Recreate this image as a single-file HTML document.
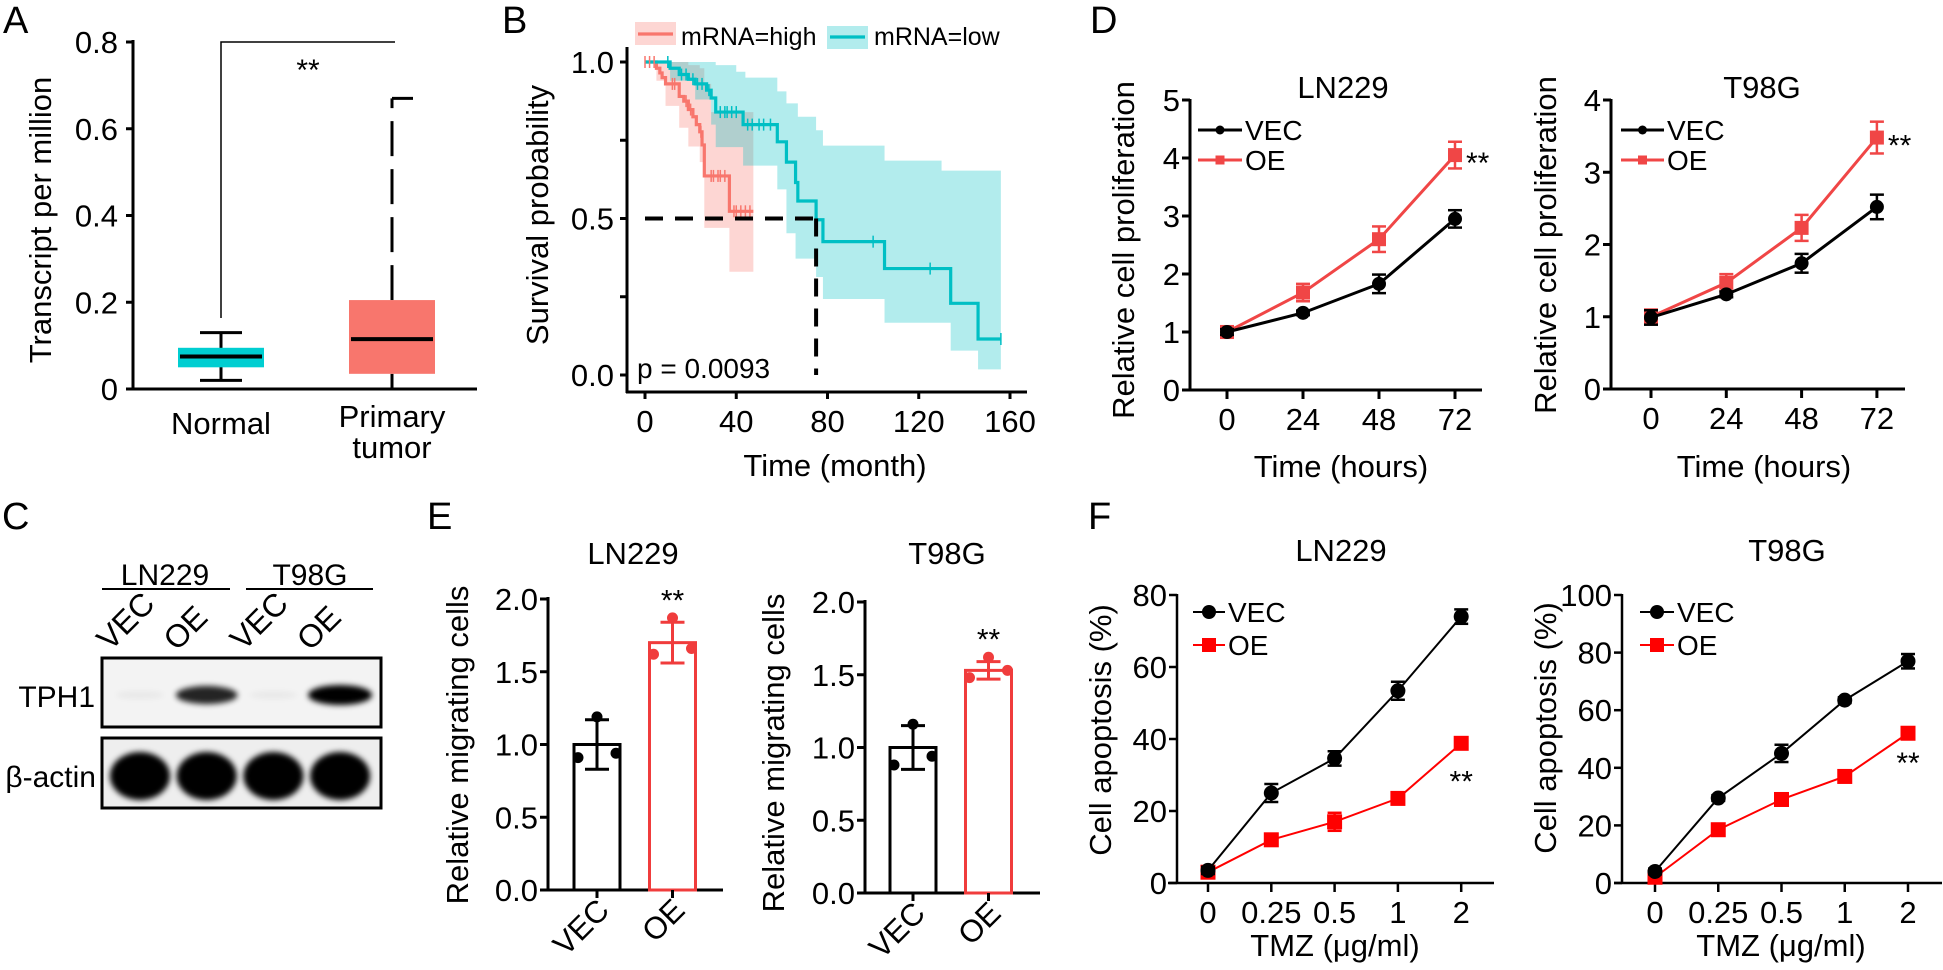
<!DOCTYPE html>
<html><head><meta charset="utf-8"><style>
html,body{margin:0;padding:0;background:#fff;}
svg{display:block;font-family:"Liberation Sans",Arial,sans-serif;}
</style></head><body>
<svg id="fig" width="1943" height="970" viewBox="0 0 1943 970" xmlns="http://www.w3.org/2000/svg">
<defs>
<filter id="blur3" x="-50%" y="-50%" width="200%" height="200%"><feGaussianBlur stdDeviation="3"/></filter>
<filter id="blur5" x="-50%" y="-50%" width="200%" height="200%"><feGaussianBlur stdDeviation="3"/></filter>
</defs>
<g font-size="31" fill="#000">
<text x="3" y="33" font-size="38">A</text>
<text x="502" y="33" font-size="38">B</text>
<text x="2" y="529" font-size="38">C</text>
<text x="1090" y="33" font-size="38">D</text>
<text x="427" y="529" font-size="38">E</text>
<text x="1088" y="529" font-size="38">F</text>

<text transform="translate(51,220) rotate(-90)" text-anchor="middle" font-size="31">Transcript per million</text>
<text x="221" y="434" text-anchor="middle" font-size="31">Normal</text>
<text x="392" y="427" text-anchor="middle" font-size="31">Primary</text>
<text x="392" y="458" text-anchor="middle" font-size="31">tumor</text>

<text transform="translate(548,215) rotate(-90)" text-anchor="middle" font-size="31">Survival probability</text>
<text x="835" y="476" text-anchor="middle" font-size="31">Time (month)</text>
<text x="637" y="378" font-size="28">p = 0.0093</text>
<text x="681" y="45" font-size="25">mRNA=high</text>
<text x="874" y="45" font-size="25">mRNA=low</text>

<text x="165" y="585" text-anchor="middle" font-size="30">LN229</text>
<text x="310" y="585" text-anchor="middle" font-size="30">T98G</text>
<text x="95" y="707" text-anchor="end" font-size="30">TPH1</text>
<text x="96" y="787" text-anchor="end" font-size="30">β-actin</text>

<text x="633" y="564" text-anchor="middle">LN229</text>
<text x="947" y="564" text-anchor="middle">T98G</text>
<text transform="translate(468,745) rotate(-90)" text-anchor="middle">Relative migrating cells</text>
<text transform="translate(784,753) rotate(-90)" text-anchor="middle">Relative migrating cells</text>

<text x="1343" y="98" text-anchor="middle">LN229</text>
<text x="1762" y="98" text-anchor="middle">T98G</text>
<text transform="translate(1134,250) rotate(-90)" text-anchor="middle">Relative cell proliferation</text>
<text transform="translate(1556,245) rotate(-90)" text-anchor="middle">Relative cell proliferation</text>
<text x="1341" y="477" text-anchor="middle">Time (hours)</text>
<text x="1764" y="477" text-anchor="middle">Time (hours)</text>

<text x="1341" y="561" text-anchor="middle">LN229</text>
<text x="1787" y="561" text-anchor="middle">T98G</text>
<text transform="translate(1111,730) rotate(-90)" text-anchor="middle">Cell apoptosis (%)</text>
<text transform="translate(1556,728) rotate(-90)" text-anchor="middle">Cell apoptosis (%)</text>
<text x="1335" y="956" text-anchor="middle">TMZ (μg/ml)</text>
<text x="1781" y="956" text-anchor="middle">TMZ (μg/ml)</text>
</g>
<g id="marks"></g>
</svg>
<script>
// ---------- data ----------
const aGroups = ['Normal', 'Primary tumor'];
const aWhiskerLow = [0.02, 0.0];
const aQ1 = [0.05, 0.035];
const aMedian = [0.075, 0.115];
const aQ3 = [0.095, 0.205];
const aWhiskerHigh = [0.13, 0.67];
const aTicks = ['0', '0.2', '0.4', '0.6', '0.8'];

const bTicksX = [0, 40, 80, 120, 160];
const bTicksY = ['0.0', '0.5', '1.0'];
const kmHighT = [0, 5, 6.5, 7.5, 9, 15, 17, 19, 21, 22.5, 24, 25, 26, 37, 47.5];
const kmHighS = [1, 0.98, 0.965, 0.95, 0.93, 0.89, 0.875, 0.848, 0.825, 0.80, 0.777, 0.735, 0.636, 0.523, 0.523];
const kmLowT = [0, 11, 15, 19, 22, 27, 29, 31, 43, 58, 62, 66, 67, 75, 78, 105, 134, 146, 156];
const kmLowS = [1, 0.98, 0.96, 0.945, 0.93, 0.91, 0.885, 0.84, 0.80, 0.745, 0.68, 0.615, 0.556, 0.496, 0.426, 0.34, 0.229, 0.115, 0.115];
const ciHighT = [0, 5, 9, 15, 19, 24, 26, 29, 37, 47.5];
const ciHighUp = [1, 1, 1, 1, 0.99, 0.98, 0.93, 0.84, 0.84, 0.84];
const ciHighLo = [1, 0.94, 0.86, 0.79, 0.73, 0.68, 0.47, 0.47, 0.33, 0.33];
const ciLowT = [0, 11, 22, 29, 31, 40, 43, 44, 58, 62, 66, 67, 75, 78, 105, 130, 134, 146, 156];
const ciLowUp = [1, 1, 1, 1, 0.99, 0.969, 0.969, 0.95, 0.906, 0.868, 0.868, 0.825, 0.782, 0.733, 0.685, 0.653, 0.653, 0.653, 0.653];
const ciLowLo = [1, 0.94, 0.88, 0.80, 0.728, 0.728, 0.669, 0.669, 0.593, 0.453, 0.372, 0.372, 0.313, 0.243, 0.167, 0.167, 0.078, 0.018, 0.018];
const censorHigh = [0, 2, 4, 12, 13, 18, 20, 24.5, 29, 30, 32, 33, 35, 39, 40, 42, 44, 46];
const censorLow = [10, 16, 18, 21, 23, 25, 28, 33, 35, 36, 38, 40, 45, 47, 50, 52, 55, 100, 125, 156];
const bMedianT = [75];

const cLanes = ['VEC', 'OE', 'VEC', 'OE'];
const cTph1 = [0.03, 0.85, 0.02, 1.0];
const cActin = [1, 1, 1, 1];

const eCats = ['VEC', 'OE'];
const eTicks = ['0.0', '0.5', '1.0', '1.5', '2.0'];
const eLnMean = [1.0, 1.7];
const eLnSd = [0.17, 0.14];
const eLnPts = [[0.91, 1.19, 0.94], [1.62, 1.87, 1.66]];
const eT9Mean = [1.0, 1.53];
const eT9Sd = [0.15, 0.06];
const eT9Pts = [[0.88, 1.16, 0.94], [1.48, 1.62, 1.53]];

const dTimes = ['0', '24', '48', '72'];
const dLnVec = [1.0, 1.33, 1.83, 2.95];
const dLnVecErr = [0.05, 0.04, 0.16, 0.15];
const dLnOe = [1.0, 1.68, 2.6, 4.05];
const dLnOeErr = [0.1, 0.15, 0.22, 0.23];
const dT9Vec = [0.99, 1.31, 1.74, 2.52];
const dT9VecErr = [0.1, 0.04, 0.13, 0.17];
const dT9Oe = [1.0, 1.47, 2.23, 3.48];
const dT9OeErr = [0.1, 0.12, 0.18, 0.22];

const fDoses = ['0', '0.25', '0.5', '1', '2'];
const fLnVec = [3.5, 25, 34.6, 53.4, 74];
const fLnVecErr = [1, 2.5, 2, 2.5, 2];
const fLnOe = [3, 12, 17, 23.5, 38.8];
const fLnOeErr = [1, 1.5, 2.5, 0.5, 0.5];
const fT9Vec = [4, 29.5, 45, 63.5, 77];
const fT9VecErr = [1, 1, 3, 1, 2.5];
const fT9Oe = [2, 18.5, 29, 37, 52];
const fT9OeErr = [0.5, 1, 1, 1, 1];

// ---------- helpers ----------
const NS = 'http://www.w3.org/2000/svg';
const root = document.getElementById('marks');
function mk(tag, attrs, parent) {
  const e = document.createElementNS(NS, tag);
  for (const k in attrs) e.setAttribute(k, attrs[k]);
  (parent || root).appendChild(e);
  return e;
}
function tag(e, name) {
  
  
  return e;
}
function line(x1, y1, x2, y2, stroke, w, name, extra) {
  const a = Object.assign({x1, y1, x2, y2, stroke, 'stroke-width': w}, extra || {});
  return tag(mk('line', a), name);
}
function txt(x, y, s, size, anchor, name, fill) {
  const t = mk('text', {x, y, 'font-size': size, 'text-anchor': anchor || 'middle', fill: fill || '#000'});
  t.textContent = s;
  return tag(t, name);
}
function linScale(v0, px0, v1, px1) { return v => px0 + (v - v0) * (px1 - px0) / (v1 - v0); }

// ---------- Panel A ----------
(function () {
  const y = linScale(0, 389, 0.8, 42);
  const xc = i => 221 + i * 171;
  line(133, 40, 133, 390, '#000', 3, 'a-y-axis');
  line(128, 389, 477, 389, '#000', 3, 'a-x-axis');
  aTicks.forEach((t, i) => {
    const v = parseFloat(t);
    line(126, y(v), 133, y(v), '#000', 3, 'a-y-tick');
    txt(118, y(v) + 11, t, 31, 'end', 'a-y-tick-label');
  });
  const fills = ['#00CED1', '#F8766D'];
  aGroups.forEach((g, i) => {
    const cx = xc(i);
    const hw = 43;
    if (i === 0) {
      line(cx, y(aWhiskerLow[i]), cx, y(aWhiskerHigh[i]), '#000', 3, 'a-whisker-normal');
      line(cx - 21, y(aWhiskerHigh[i]), cx + 21, y(aWhiskerHigh[i]), '#000', 3, 'a-whisker-cap-normal');
      line(cx - 21, y(aWhiskerLow[i]), cx + 21, y(aWhiskerLow[i]), '#000', 3, 'a-whisker-cap-normal');
    } else {
      line(cx, y(aQ3[i]), cx, y(aWhiskerHigh[i]), '#000', 3, 'a-whisker-primary', {'stroke-dasharray': '35 13'});
      line(cx, y(aWhiskerLow[i]), cx, y(aQ1[i]), '#000', 3, 'a-whisker-primary');
      line(cx, y(aWhiskerHigh[i]), cx + 21, y(aWhiskerHigh[i]), '#000', 3, 'a-whisker-cap-primary');
    }
    tag(mk('rect', {x: cx - hw, y: y(aQ3[i]), width: hw * 2, height: y(aQ1[i]) - y(aQ3[i]), fill: fills[i]}), 'a-box-' + (i ? 'primary' : 'normal'));
    line(cx - hw + 2, y(aMedian[i]), cx + hw - 2, y(aMedian[i]), '#000', 4, 'a-median');
  });
  tag(mk('polyline', {points: `${xc(0)},${318} ${xc(0)},42 ${xc(1) + 3},42`, fill: 'none', stroke: '#000', 'stroke-width': 1.5}), 'a-significance-bracket');
  txt(308, 80, '**', 30, 'middle', 'a-significance-stars');
})();

// ---------- Panel B ----------
(function () {
  const x = linScale(0, 645, 160, 1010);
  const y = linScale(0, 375, 1, 62);
  const g = tag(mk('g', {}), 'b-plot');
  function stepPts(T, S) {
    let p = [];
    for (let i = 0; i < T.length; i++) {
      if (i > 0) p.push([x(T[i]), y(S[i - 1])]);
      p.push([x(T[i]), y(S[i])]);
    }
    return p;
  }
  function band(T, U, L, fill, name) {
    const up = stepPts(T, U), lo = stepPts(T, L).reverse();
    tag(mk('polygon', {points: up.concat(lo).map(p => p.join(',')).join(' '), fill, stroke: 'none'}, g), name);
  }
  band(ciHighT, ciHighUp, ciHighLo, 'rgba(248,118,109,0.3)', 'b-ci-high');
  band(ciLowT, ciLowUp, ciLowLo, 'rgba(0,191,196,0.3)', 'b-ci-low');
  function curve(T, S, col, name) {
    tag(mk('polyline', {points: stepPts(T, S).map(p => p.join(',')).join(' '), fill: 'none', stroke: col, 'stroke-width': 3.2}, g), name);
  }
  curve(kmHighT, kmHighS, '#F8766D', 'b-curve-high');
  curve(kmLowT, kmLowS, '#00BFC4', 'b-curve-low');
  function sAt(T, S, t) { let s = S[0]; for (let i = 0; i < T.length; i++) if (T[i] <= t) s = S[i]; return s; }
  censorHigh.forEach(t => line(x(t), y(sAt(kmHighT, kmHighS, t)) - 6, x(t), y(sAt(kmHighT, kmHighS, t)) + 6, '#F8766D', 1.5, 'b-censor-high'));
  censorLow.forEach(t => line(x(t), y(sAt(kmLowT, kmLowS, t)) - 6, x(t), y(sAt(kmLowT, kmLowS, t)) + 6, '#00BFC4', 1.5, 'b-censor-low'));
  line(x(0), y(0.5), x(bMedianT[0]), y(0.5), '#000', 4, 'b-median-line-h', {'stroke-dasharray': '18 12'});
  line(x(bMedianT[0]), y(0.5), x(bMedianT[0]), y(0), '#000', 4, 'b-median-line-v', {'stroke-dasharray': '18 12'});
  line(627, 47, 627, 393, '#000', 3, 'b-y-axis');
  line(626, 392, 1027, 392, '#000', 3, 'b-x-axis');
  [0, 0.25, 0.5, 0.75, 1].forEach(v => line(620, y(v), 627, y(v), '#000', 3, 'b-y-tick'));
  bTicksY.forEach(t => txt(614, y(parseFloat(t)) + 11, t, 31, 'end', 'b-y-tick-label'));
  bTicksX.forEach(t => {
    line(x(t), 392, x(t), 399, '#000', 3, 'b-x-tick');
    txt(x(t), 432, String(t), 31, 'middle', 'b-x-tick-label');
  });
  tag(mk('rect', {x: 635, y: 22, width: 41, height: 23, fill: 'rgba(248,118,109,0.3)'}), 'b-legend-high-swatch');
  line(638, 34, 673, 34, '#F8766D', 3.2, 'b-legend-high-line');
  tag(mk('rect', {x: 827, y: 26, width: 41, height: 23, fill: 'rgba(0,191,196,0.3)'}), 'b-legend-low-swatch');
  line(830, 37, 865, 37, '#00BFC4', 3.2, 'b-legend-low-line');
})();

// ---------- Panel C (western blot) ----------
(function () {
  const lx = i => 140 + i * 66.7;
  line(102, 589, 230, 589, '#000', 2, 'c-ln229-underline');
  line(246, 589, 373, 589, '#000', 2, 'c-t98g-underline');
  cLanes.forEach((l, i) => {
    const t = txt(lx(i) - 30, 652, l, 32, 'start', 'c-lane-label');
    t.setAttribute('transform', `rotate(-45 ${lx(i) - 30} 652)`);
  });
  tag(mk('rect', {x: 102, y: 658, width: 279, height: 69, fill: '#f3f3f3', stroke: '#000', 'stroke-width': 3}), 'c-tph1-blot');
  tag(mk('rect', {x: 102, y: 738, width: 279, height: 70, fill: '#eeeeee', stroke: '#000', 'stroke-width': 3}), 'c-actin-blot');
  cTph1.forEach((v, i) => {
    const w = 24 + 8 * v, h = 4 + 6 * v;
    tag(mk('ellipse', {cx: lx(i), cy: 695, rx: w, ry: h, fill: '#000', opacity: Math.max(v, 0.04), filter: 'url(#blur3)'}), 'c-tph1-band');
  });
  cActin.forEach((v, i) => {
    tag(mk('ellipse', {cx: lx(i), cy: 776, rx: 30 * v, ry: 24 * v, fill: '#000', filter: 'url(#blur5)'}), 'c-actin-band');
  });
})();

// ---------- Panel E ----------
function barPanel(ax, y0, yTop, bx0, mean, sd, pts, prefix) {
  const y = linScale(0, y0, 2, yTop);
  const bxc = i => bx0 + i * 75.5;
  const cols = ['#000', '#F03C3C'];
  line(ax, yTop - 2, ax, y0 + 1, '#000', 3, prefix + '-y-axis');
  line(ax - 8, y0, ax + 175, y0, '#000', 3, prefix + '-x-axis');
  eTicks.forEach(t => {
    const v = parseFloat(t);
    line(ax - 8, y(v), ax, y(v), '#000', 3, prefix + '-y-tick');
    txt(ax - 10, y(v) + 11, t, 31, 'end', prefix + '-y-tick-label');
  });
  eCats.forEach((c, i) => {
    const cx = bxc(i);
    tag(mk('rect', {x: cx - 23, y: y(mean[i]), width: 46, height: y0 - y(mean[i]), fill: 'none', stroke: cols[i], 'stroke-width': 3}), prefix + '-bar-' + c.toLowerCase());
    line(cx, y(mean[i] - sd[i]), cx, y(mean[i] + sd[i]), cols[i], 3, prefix + '-error-bar');
    line(cx - 12, y(mean[i] + sd[i]), cx + 12, y(mean[i] + sd[i]), cols[i], 3, prefix + '-error-cap');
    line(cx - 12, y(mean[i] - sd[i]), cx + 12, y(mean[i] - sd[i]), cols[i], 3, prefix + '-error-cap');
    const offs = [-19, 0, 19];
    pts[i].forEach((p, k) => tag(mk('circle', {cx: cx + offs[k], cy: y(p), r: 5.5, fill: cols[i]}), prefix + '-point'));
    line(cx, y0, cx, y0 + 8, '#000', 3, prefix + '-x-tick');
    const t = txt(cx + 14, y0 + 22, c, 31, 'end', prefix + '-x-tick-label');
    t.setAttribute('transform', `rotate(-45 ${cx + 14} ${y0 + 22})`);
  });
  txt(bxc(1), y(mean[1] + sd[1]) - 12, '**', 30, 'middle', prefix + '-significance');
}
barPanel(548, 890, 599, 597, eLnMean, eLnSd, eLnPts, 'e-ln229');
barPanel(865, 893, 602, 913, eT9Mean, eT9Sd, eT9Pts, 'e-t98g');

// ---------- line panels (D, F) ----------
function linePanel(o) {
  const y = linScale(0, o.y0, o.yMax, o.yTop);
  const x = i => o.x0 + i * o.step;
  line(o.ax, o.yTop - 1, o.ax, o.y0 + 1, '#000', o.aw, o.prefix + '-y-axis');
  line(o.xStart, o.y0, o.xEnd, o.y0, '#000', o.aw, o.prefix + '-x-axis');
  for (let v = 0; v <= o.yMax + 1e-9; v += o.yStep) {
    line(o.ax - 8, y(v), o.ax, y(v), '#000', o.aw, o.prefix + '-y-tick');
    txt(o.ax - 10, y(v) + 11, String(v), 31, 'end', o.prefix + '-y-tick-label');
  }
  o.cats.forEach((c, i) => {
    line(x(i), o.y0, x(i), o.y0 + 9, '#000', o.aw, o.prefix + '-x-tick');
    txt(x(i), o.y0 + 40, c, 31, 'middle', o.prefix + '-x-tick-label');
  });
  function series(vals, errs, col, shape, name) {
    tag(mk('polyline', {points: vals.map((v, i) => x(i) + ',' + y(v)).join(' '), fill: 'none', stroke: col, 'stroke-width': o.lw}), o.prefix + '-' + name + '-line');
    vals.forEach((v, i) => {
      line(x(i), y(v - errs[i]), x(i), y(v + errs[i]), col, 2.5, o.prefix + '-' + name + '-error');
      line(x(i) - 7, y(v + errs[i]), x(i) + 7, y(v + errs[i]), col, 2.5, o.prefix + '-' + name + '-error-cap');
      line(x(i) - 7, y(v - errs[i]), x(i) + 7, y(v - errs[i]), col, 2.5, o.prefix + '-' + name + '-error-cap');
      if (shape === 'c') tag(mk('circle', {cx: x(i), cy: y(v), r: o.ms, fill: col}), o.prefix + '-' + name + '-point');
      else tag(mk('rect', {x: x(i) - o.ms, y: y(v) - o.ms, width: o.ms * 2, height: o.ms * 2, fill: col}), o.prefix + '-' + name + '-point');
    });
  }
  series(o.oe, o.oeErr, o.red, 's', 'oe');
  series(o.vec, o.vecErr, '#000', 'c', 'vec');
  const L = o.legend;
  line(L.x1, L.y1, L.x2, L.y1, '#000', o.lw, o.prefix + '-legend-vec-line');
  tag(mk('circle', {cx: (L.x1 + L.x2) / 2, cy: L.y1, r: L.m, fill: '#000'}), o.prefix + '-legend-vec-marker');
  txt(L.x2 + 3, L.y1 + 10, 'VEC', 28, 'start', o.prefix + '-legend-vec-label');
  line(L.x1, L.y2, L.x2, L.y2, o.red, o.lw, o.prefix + '-legend-oe-line');
  tag(mk('rect', {x: (L.x1 + L.x2) / 2 - L.m, y: L.y2 - L.m, width: L.m * 2, height: L.m * 2, fill: o.red}), o.prefix + '-legend-oe-marker');
  txt(L.x2 + 3, L.y2 + 10, 'OE', 28, 'start', o.prefix + '-legend-oe-label');
  const last = o.cats.length - 1;
  txt(x(last) + o.starDx, y(o.starAt) + o.starDy, '**', 30, o.starDx ? 'start' : 'middle', o.prefix + '-significance');
}
linePanel({prefix: 'd-ln229', ax: 1190, y0: 390, yTop: 100, yMax: 5, yStep: 1, x0: 1227, step: 76, xStart: 1189, xEnd: 1482,
  cats: dTimes, vec: dLnVec, vecErr: dLnVecErr, oe: dLnOe, oeErr: dLnOeErr, red: '#F04646', lw: 3, aw: 3, ms: 7,
  legend: {x1: 1198, x2: 1242, y1: 130, y2: 160, m: 4.5}, starAt: dLnOe[3], starDx: 11, starDy: 18});
linePanel({prefix: 'd-t98g', ax: 1611, y0: 389, yTop: 100, yMax: 4, yStep: 1, x0: 1651, step: 75.3, xStart: 1610, xEnd: 1905,
  cats: dTimes, vec: dT9Vec, vecErr: dT9VecErr, oe: dT9Oe, oeErr: dT9OeErr, red: '#F04646', lw: 3, aw: 3, ms: 7,
  legend: {x1: 1621, x2: 1664, y1: 130, y2: 160, m: 4.5}, starAt: dT9Oe[3], starDx: 11, starDy: 18});
linePanel({prefix: 'f-ln229', ax: 1177, y0: 883, yTop: 595, yMax: 80, yStep: 20, x0: 1208, step: 63.3, xStart: 1168, xEnd: 1494,
  cats: fDoses, vec: fLnVec, vecErr: fLnVecErr, oe: fLnOe, oeErr: fLnOeErr, red: '#FF0000', lw: 2, aw: 2.5, ms: 7.5,
  legend: {x1: 1193, x2: 1225, y1: 612, y2: 645, m: 7}, starAt: fLnOe[4], starDx: 0, starDy: 48});
linePanel({prefix: 'f-t98g', ax: 1622, y0: 883, yTop: 595, yMax: 100, yStep: 20, x0: 1655, step: 63.25, xStart: 1614, xEnd: 1942,
  cats: fDoses, vec: fT9Vec, vecErr: fT9VecErr, oe: fT9Oe, oeErr: fT9OeErr, red: '#FF0000', lw: 2, aw: 2.5, ms: 7.5,
  legend: {x1: 1640, x2: 1674, y1: 612, y2: 645, m: 7}, starAt: fT9Oe[4], starDx: 0, starDy: 40});
</script>
</body></html>
